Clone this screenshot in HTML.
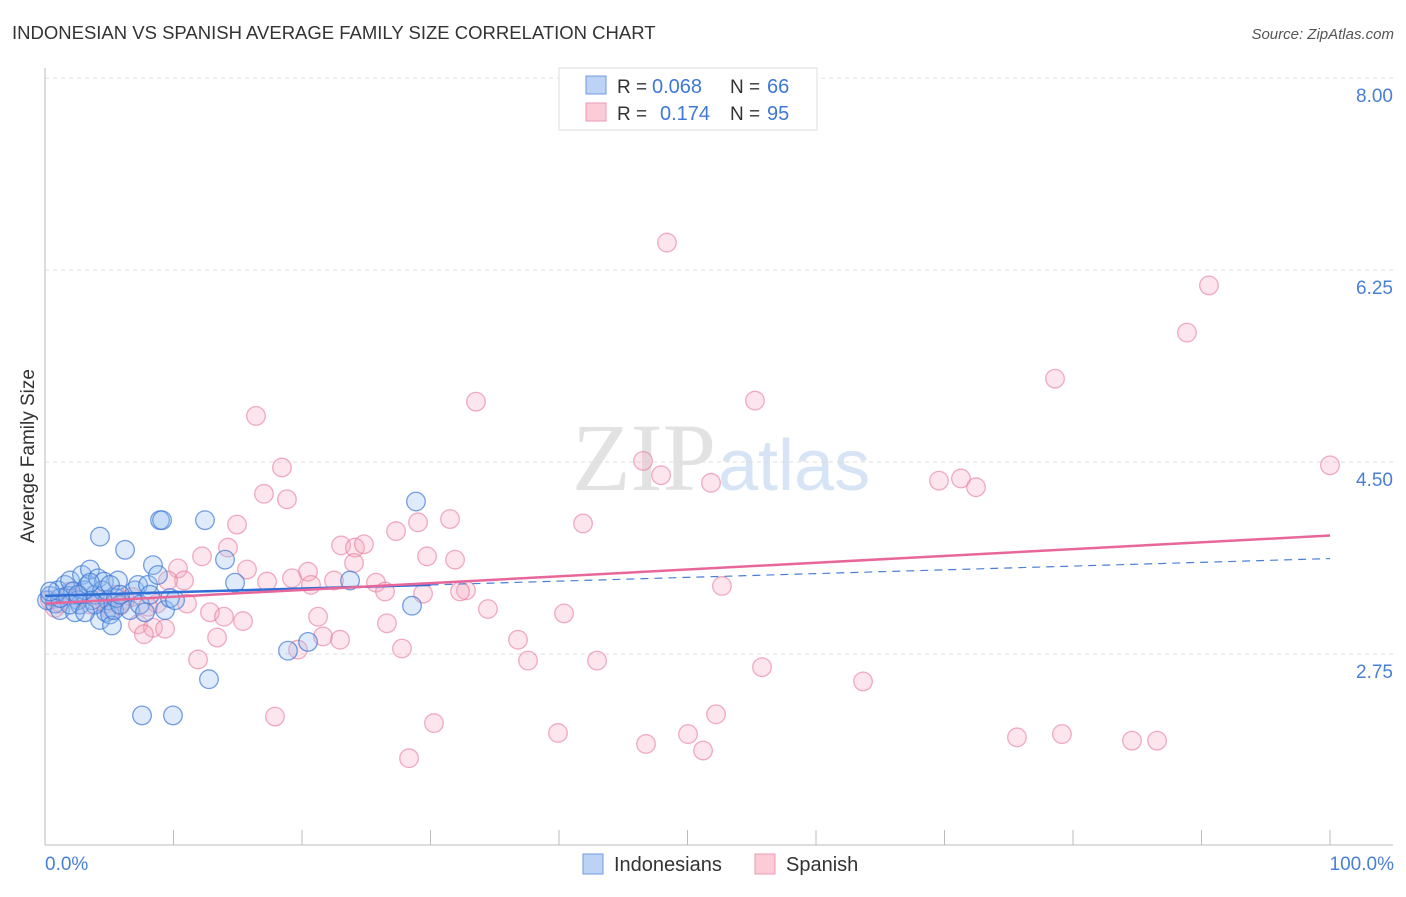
<!DOCTYPE html>
<html><head><meta charset="utf-8"><style>
body{margin:0;background:#fff;font-family:"Liberation Sans",sans-serif;}
</style></head><body>
<svg width="1406" height="892" id="chart" xmlns="http://www.w3.org/2000/svg" font-family="Liberation Sans, sans-serif">
<text x="12" y="39" font-size="18.5" fill="#333">INDONESIAN VS SPANISH AVERAGE FAMILY SIZE CORRELATION CHART</text>
<text x="1394" y="39" font-size="15" fill="#555" font-style="italic" text-anchor="end">Source: ZipAtlas.com</text>
<text x="716" y="490" font-size="96" font-family="Liberation Serif, serif" fill="#e2e2e2" text-anchor="end">ZIP</text>
<text x="718" y="490" font-size="72" fill="#d6e4f6">atlas</text>
<g id="grid"></g>
<g id="axes"></g>
<g id="pts"></g>
<g id="trend"></g>
<text transform="translate(34,456) rotate(-90)" font-size="19" fill="#333" text-anchor="middle">Average Family Size</text>
<text x="45" y="870" font-size="19" fill="#4a7fd6">0.0%</text>
<text x="1394" y="870" font-size="19" fill="#4a7fd6" text-anchor="end">100.0%</text>
<g>
<rect x="559" y="68" width="258" height="62" fill="#fff" stroke="#ddd"/>
<rect x="586" y="76" width="20" height="18" fill="#bcd3f5" stroke="#6f9ae0"/>
<rect x="586" y="103" width="20" height="18" fill="#fbcbd8" stroke="#ee9ab2"/>
<text x="617" y="93" font-size="19" fill="#333">R =</text>
<text x="652" y="93" font-size="20" fill="#3f78d6">0.068</text>
<text x="730" y="93" font-size="19" fill="#333">N =</text>
<text x="767" y="93" font-size="20" fill="#3f78d6">66</text>
<text x="617" y="120" font-size="19" fill="#333">R =</text>
<text x="660" y="120" font-size="20" fill="#3f78d6">0.174</text>
<text x="730" y="120" font-size="19" fill="#333">N =</text>
<text x="767" y="120" font-size="20" fill="#3f78d6">95</text>
</g>
<g>
<rect x="583" y="854" width="20" height="20" fill="#bcd3f5" stroke="#6f9ae0"/>
<text x="614" y="871" font-size="20" fill="#333">Indonesians</text>
<rect x="755" y="854" width="20" height="20" fill="#fbcbd8" stroke="#ee9ab2"/>
<text x="786" y="871" font-size="20" fill="#333">Spanish</text>
</g>
</svg>
<script>
const yTicks=[8.00,6.25,4.50,2.75];
const yTickLabels=["8.00","6.25","4.50","2.75"];
const xTicks=[10,20,30,40,50,60,70,80,90,100];
const blueX=[0.16,0.39,0.78,1.01,1.17,1.56,1.79,1.95,2.18,2.33,2.57,2.72,2.88,3.11,3.35,3.50,3.66,3.89,4.12,4.28,4.44,4.59,4.75,4.90,5.06,5.21,5.37,5.53,5.68,5.84,6.23,4.28,6.61,7.00,7.24,7.39,7.78,8.02,8.17,8.40,8.79,8.95,9.11,9.34,9.73,10.12,12.45,14.01,14.79,7.55,9.96,12.76,18.91,20.47,23.74,28.56,28.87,3.50,1.95,1.17,5.06,5.84,3.89,3.11,2.57,0.39];
const blueY=[3.24,3.28,3.21,3.33,3.15,3.38,3.28,3.42,3.32,3.13,3.24,3.20,3.47,3.33,3.38,3.52,3.24,3.29,3.44,3.06,3.33,3.41,3.13,3.24,3.11,3.01,3.15,3.26,3.42,3.20,3.70,3.82,3.15,3.33,3.38,3.20,3.13,3.38,3.29,3.56,3.47,3.97,3.97,3.15,3.26,3.24,3.97,3.61,3.40,2.19,2.19,2.52,2.78,2.86,3.42,3.19,4.14,3.40,3.20,3.26,3.38,3.29,3.20,3.13,3.29,3.32];
const pinkX=[48.40,90.58,88.87,78.60,33.54,55.25,16.42,18.44,46.54,47.94,51.83,69.57,71.28,72.45,100,17.04,18.83,14.94,29.03,31.52,41.87,27.32,14.24,23.04,24.12,24.82,12.22,29.73,31.91,24.05,10.35,15.72,20.47,22.49,10.82,9.57,17.28,19.22,25.76,20.70,26.46,32.76,32.30,29.42,52.68,11.05,6.77,8.72,8.02,5.53,6.23,4.67,12.84,13.93,15.41,21.25,34.47,40.39,26.61,7.24,8.40,9.34,7.70,13.39,21.63,22.96,36.81,27.78,19.69,37.59,42.96,11.91,55.80,63.66,17.90,30.27,52.22,39.92,50.04,75.64,79.14,84.59,86.54,46.77,51.21,28.33,4.28,2.72,1.17,0.78,1.95,3.50,5.06,5.84,0.39];
const pinkY=[6.50,6.11,5.68,5.26,5.05,5.06,4.92,4.45,4.51,4.38,4.31,4.33,4.35,4.27,4.47,4.21,4.16,3.93,3.95,3.98,3.94,3.87,3.72,3.74,3.72,3.75,3.64,3.64,3.61,3.58,3.53,3.52,3.50,3.42,3.42,3.42,3.41,3.44,3.40,3.38,3.32,3.33,3.32,3.30,3.37,3.21,3.27,3.21,3.18,3.29,3.24,3.21,3.13,3.09,3.05,3.09,3.16,3.12,3.03,3.02,2.99,2.98,2.93,2.90,2.91,2.88,2.88,2.80,2.79,2.69,2.69,2.70,2.63,2.50,2.18,2.12,2.20,2.03,2.02,1.99,2.02,1.96,1.96,1.93,1.87,1.80,3.24,3.26,3.21,3.17,3.32,3.20,3.15,3.19,3.24];
const blueTrendX=[0,30,100];
const blueTrendY=[3.28,3.38,3.62];
const pinkTrendX=[0,100];
const pinkTrendY=[3.21,3.83];
const NS="http://www.w3.org/2000/svg";
const sx=v=>45+v*12.85;
const sy=v=>654-(v-2.75)*109.7;
function mk(tag,attrs,parent){const e=document.createElementNS(NS,tag);for(const k in attrs)e.setAttribute(k,attrs[k]);document.getElementById(parent).appendChild(e);return e;}
yTicks.forEach((t,i)=>{
 const l=mk('line',{x1:45,x2:1393,y1:sy(t),y2:sy(t),stroke:'#ddd','stroke-dasharray':'4,4'},'grid');
 
 
 const tx=mk('text',{x:1393,y:sy(t)+24,'font-size':19,fill:'#4a7fd6','text-anchor':'end'},'grid');
 tx.textContent=yTickLabels[i];
 
 
});
let a=mk('line',{x1:45,x2:45,y1:68,y2:845,stroke:'#bbb'},'axes');


a=mk('line',{x1:45,x2:1393,y1:845,y2:845,stroke:'#bbb'},'axes');


xTicks.forEach(t=>{
 const l=mk('line',{x1:sx(t),x2:sx(t),y1:830,y2:845,stroke:'#bbb'},'axes');
 
 
});
pinkX.forEach((x,i)=>{
 const c=mk('circle',{cx:sx(x),cy:sy(pinkY[i]),r:9.3,fill:'rgba(246,170,192,0.3)',stroke:'rgba(232,120,155,0.6)','stroke-width':1.3},'pts');
 
 
});
blueX.forEach((x,i)=>{
 const c=mk('circle',{cx:sx(x),cy:sy(blueY[i]),r:9.3,fill:'rgba(150,190,240,0.3)',stroke:'rgba(60,120,215,0.7)','stroke-width':1.3},'pts');
 
 
});
let t=mk('line',{x1:sx(blueTrendX[1]),y1:sy(blueTrendY[1]),x2:sx(blueTrendX[2]),y2:sy(blueTrendY[2]),stroke:'#4a7fd6','stroke-width':1.2,'stroke-dasharray':'8,6'},'trend');


t=mk('line',{x1:sx(blueTrendX[0]),y1:sy(blueTrendY[0]),x2:sx(blueTrendX[1]),y2:sy(blueTrendY[1]),stroke:'#2f6fd6','stroke-width':2.5},'trend');


t=mk('line',{x1:sx(pinkTrendX[0]),y1:sy(pinkTrendY[0]),x2:sx(pinkTrendX[1]),y2:sy(pinkTrendY[1]),stroke:'#e8679a','stroke-width':2.5},'trend');


</script>
</body></html>
